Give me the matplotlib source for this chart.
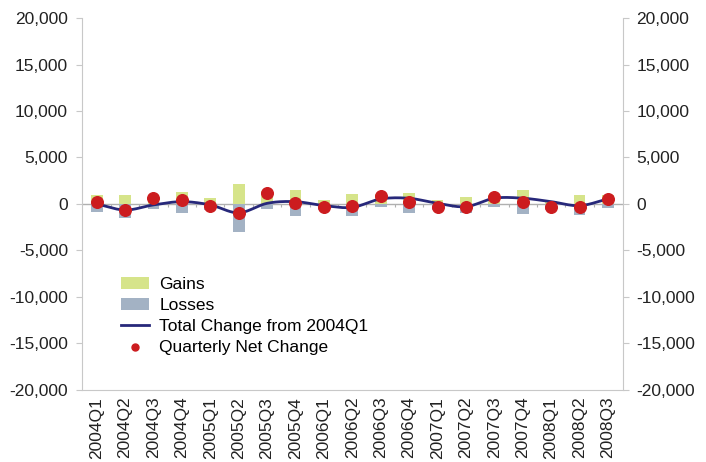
import numpy as np
import matplotlib
matplotlib.use('Agg')
import matplotlib.pyplot as plt
from matplotlib.ticker import FuncFormatter

plt.rcParams['font.family'] = ['Liberation Sans', 'DejaVu Sans']

quarters = ['2004Q1', '2004Q2', '2004Q3', '2004Q4', '2005Q1', '2005Q2', '2005Q3',
            '2005Q4', '2006Q1', '2006Q2', '2006Q3', '2006Q4', '2007Q1', '2007Q2',
            '2007Q3', '2007Q4', '2008Q1', '2008Q2', '2008Q3']
gains = [950, 970, 1000, 1300, 600, 2100, 1400, 1450, 450, 1050,
         1100, 1150, 450, 800, 1000, 1450, 300, 970, 950]
losses = [-850, -1550, -550, -950, -650, -3050, -500, -1250, -650, -1250,
          -300, -1000, -700, -1000, -350, -1100, -600, -1200, -450]
net_change = [250, -650, 600, 400, -180, -950, 1150, 100, -360, -220,
              900, 250, -360, -340, 800, 250, -330, -350, 500]
total_change = [0, -650, -100, 250, -100, -950, 70, 250, -180, -360,
                540, 610, 70, -290, 620, 620, 250, -180, 540]

GAIN_COLOR = '#d6e48a'
LOSS_COLOR = '#a3b2c4'
LINE_COLOR = '#27287a'
DOT_COLOR = '#cc1c1f'
AXIS_COLOR = '#c8c8c8'
FONT_SIZE = 12.5


def smooth_curve(x, y, steps=20):
    """Catmull-Rom spline through the points, like a smoothed line chart."""
    x = np.asarray(x, dtype=float)
    y = np.asarray(y, dtype=float)
    px = np.concatenate([[2 * x[0] - x[1]], x, [2 * x[-1] - x[-2]]])
    py = np.concatenate([[2 * y[0] - y[1]], y, [2 * y[-1] - y[-2]]])
    xs, ys = [], []
    t = np.linspace(0, 1, steps, endpoint=False)
    for i in range(1, len(px) - 2):
        for p, out in ((px, xs), (py, ys)):
            p0, p1, p2, p3 = p[i - 1], p[i], p[i + 1], p[i + 2]
            out.extend(0.5 * (2 * p1 + (-p0 + p2) * t
                              + (2 * p0 - 5 * p1 + 4 * p2 - p3) * t ** 2
                              + (-p0 + 3 * p1 - 3 * p2 + p3) * t ** 3))
    xs.append(x[-1])
    ys.append(y[-1])
    return np.array(xs), np.array(ys)


x = np.arange(len(quarters))

fig = plt.figure(figsize=(7.06, 4.62), dpi=100)
ax = fig.add_axes([0.116, 0.156, 0.766, 0.805])

ax.bar(x, gains, width=0.42, color=GAIN_COLOR, label='Gains', zorder=2)
ax.bar(x, losses, width=0.42, color=LOSS_COLOR, label='Losses', zorder=2)
ax.axhline(0, color='#b0b0b0', lw=1.0, zorder=1)
ax.vlines(x[:-1] + 0.5, -350, 0, color='#b0b0b0', lw=0.8, zorder=1)

sx, sy = smooth_curve(x, total_change)
ax.plot(sx, sy, color=LINE_COLOR, lw=2.0, zorder=3, label='Total Change from 2004Q1')
ax.scatter(x, net_change, s=70, color=DOT_COLOR, zorder=4, label='Quarterly Net Change')

ax.set_xlim(-0.52, len(quarters) - 0.48)
ax.set_ylim(-20000, 20000)
ax.set_yticks(np.arange(-20000, 20001, 5000))
fmt = FuncFormatter(lambda v, pos: f'{int(v):,}')
ax.yaxis.set_major_formatter(fmt)
ax.set_xticks(x)
ax.set_xticklabels(quarters, rotation=90)

for side in ('left', 'right', 'bottom'):
    ax.spines[side].set_color(AXIS_COLOR)
ax.spines['top'].set_visible(False)
ax.tick_params(axis='y', which='both', left=True, right=True, labelleft=True,
               labelright=True, length=4, color=AXIS_COLOR, labelsize=FONT_SIZE,
               labelcolor='#222222', pad=6)
ax.tick_params(axis='x', length=0, labelsize=FONT_SIZE, labelcolor='#222222', pad=5)

handles, labels = ax.get_legend_handles_labels()
order = [labels.index(n) for n in ('Gains', 'Losses', 'Total Change from 2004Q1',
                                   'Quarterly Net Change')]
ax.legend([handles[i] for i in order], [labels[i] for i in order],
          loc='upper left', bbox_to_anchor=(0.06, 0.322), frameon=False,
          fontsize=FONT_SIZE, labelspacing=0.33, handlelength=1.6, handletextpad=0.6,
          borderaxespad=0, markerscale=0.6)

fig.savefig('out.png', dpi=100)
